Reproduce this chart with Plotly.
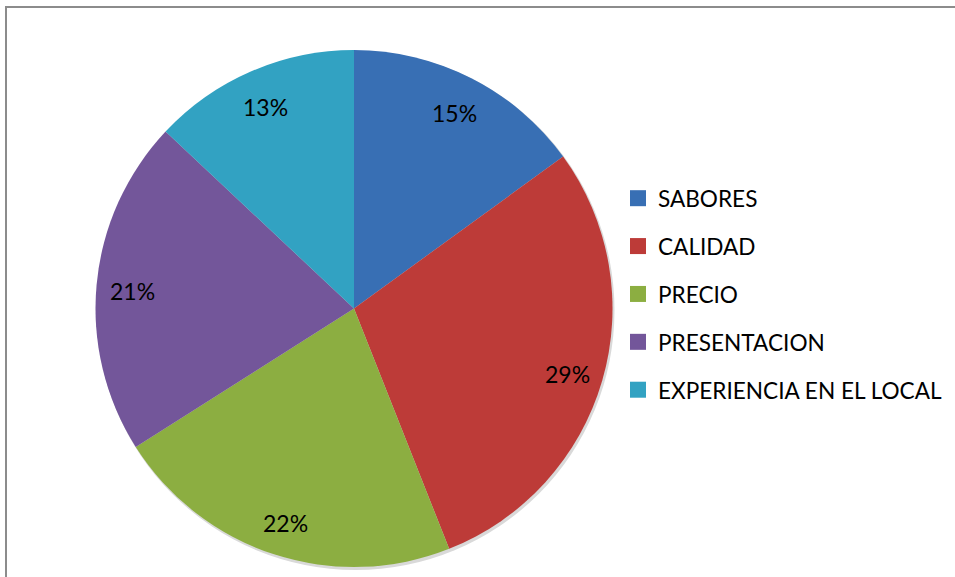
import numpy as np
import plotly.graph_objects as go

labels = ["SABORES", "CALIDAD", "PRECIO", "PRESENTACION", "EXPERIENCIA EN EL LOCAL"]
values = [15, 29, 22, 21, 13]
colors = ["#386fb4", "#bd3b38", "#8cae41", "#73569a", "#32a2c2"]

W, H = 955, 577
FONT = "Lato, 'Open Sans', sans-serif"

# pie placement (pixels)
PX0, PX1, PY0, PY1 = 95, 613, 50, 567
cx_px, cy_px = (PX0 + PX1) / 2, (PY0 + PY1) / 2
R = min(PX1 - PX0, PY1 - PY0) / 2
LABEL_R = 0.86 * R

fig = go.Figure()

# subtle drop shadow behind the pie
fig.add_shape(type="circle", xref="paper", yref="paper", layer="below",
              x0=(cx_px - R + 1) / W, x1=(cx_px + R + 2) / W,
              y0=1 - (cy_px + R + 3) / H, y1=1 - (cy_px - R + 1) / H,
              fillcolor="#d9d9d9", line=dict(width=0))

fig.add_trace(go.Pie(
    labels=labels, values=values, sort=False, direction="clockwise", rotation=0,
    marker=dict(colors=colors, line=dict(width=0)),
    textinfo="none",
    domain=dict(x=[PX0 / W, PX1 / W], y=[1 - PY1 / H, 1 - PY0 / H]),
    showlegend=False, hoverinfo="label+percent",
))

# percentage labels placed along each slice bisector (derived from the values)
vals = np.array(values, dtype=float)
total = vals.sum()
cum = np.cumsum(vals) - vals / 2
for v, c in zip(vals, cum):
    ang = 2 * np.pi * c / total  # clockwise from 12 o'clock
    x_px = cx_px + LABEL_R * np.sin(ang)
    y_px = cy_px - LABEL_R * np.cos(ang) + 3
    fig.add_annotation(
        x=x_px / W, y=1 - y_px / H, xref="paper", yref="paper",
        text=f"{round(100 * v / total)}%", showarrow=False,
        xanchor="center", yanchor="middle",
        font=dict(family=FONT, size=23, color="black"),
    )

# legend entries (one per slice, same labels/colours)
for lab, col in zip(labels, colors):
    fig.add_trace(go.Scatter(
        x=[None], y=[None], mode="markers", name=lab, legendgroup=lab,
        marker=dict(symbol="square", size=16, color=col),
        showlegend=True,
    ))

fig.update_layout(
    width=W, height=H,
    margin=dict(l=0, r=0, t=0, b=0),
    paper_bgcolor="white", plot_bgcolor="white",
    xaxis=dict(visible=False), yaxis=dict(visible=False),
    font=dict(family=FONT, size=22.6, color="black"),
    legend=dict(
        x=618 / W, xanchor="left", y=1 - 177 / H, yanchor="top",
        font=dict(family=FONT, size=22.6, color="black"),
        tracegroupgap=15.5, itemwidth=30, bgcolor="rgba(0,0,0,0)",
    ),
)
fig.add_shape(type="line", xref="paper", yref="paper", x0=5 / W, x1=1, y0=1 - 7 / H, y1=1 - 7 / H,
              line=dict(color="#8c8c8c", width=2))
fig.add_shape(type="line", xref="paper", yref="paper", x0=6 / W, x1=6 / W, y0=0, y1=1 - 7 / H,
              line=dict(color="#8c8c8c", width=2))

fig.write_html("out.html", config={"displayModeBar": False},
               post_script="document.body.style.margin='0';document.body.style.overflow='hidden';")
